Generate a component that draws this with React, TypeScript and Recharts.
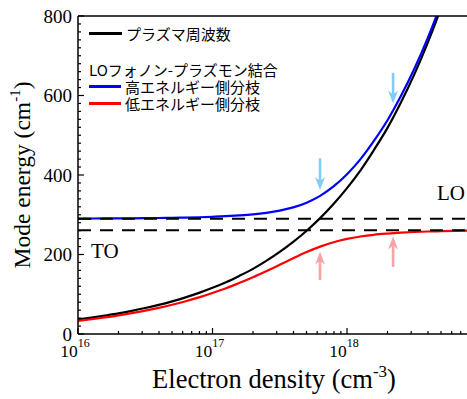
import { LineChart, Line, XAxis, YAxis, ReferenceLine, Legend, Label } from "recharts";

// electron density (cm^-3), 0.1 decade steps
const density = [
  1e16, 1.26e16, 1.58e16, 2e16, 2.51e16, 3.16e16, 3.98e16, 5.01e16, 6.31e16, 7.94e16,
  1e17, 1.26e17, 1.58e17, 2e17, 2.51e17, 3.16e17, 3.98e17, 5.01e17, 6.31e17, 7.94e17,
  1e18, 1.26e18, 1.58e18, 2e18, 2.51e18, 3.16e18, 3.98e18, 5.01e18, 6.31e18, 7.94e18,
];
// mode energies (cm^-1)
const plasmaFreq = [
  36.7, 41.2, 46.2, 51.8, 58.2, 65.3, 73.2, 82.2, 92.2, 103.4,
  116.1, 130.2, 146.1, 163.9, 183.9, 206.4, 231.6, 259.8, 291.5, 327.1,
  367.0, 411.8, 462.1, 518.5, 581.7, 652.6, 732.2, 821.6, 921.9, 1034.3,
];
const upperBranch = [
  290.4, 290.5, 290.7, 290.9, 291.1, 291.4, 291.8, 292.3, 292.9, 293.7,
  294.9, 296.3, 298.3, 301.0, 304.9, 310.4, 318.5, 330.4, 347.5, 371.2,
  401.9, 439.9, 485.1, 537.7, 597.9, 666.5, 744.2, 832.0, 931.0, 1038.0,
];
const lowerBranch = [
  33.1, 37.1, 41.6, 46.7, 52.4, 58.7, 65.7, 73.7, 82.5, 92.2,
  103.2, 115.1, 128.3, 142.7, 158.0, 174.2, 190.5, 206.0, 219.8, 230.9,
  239.2, 245.3, 249.6, 252.6, 254.9, 256.6, 257.8, 258.7, 259.4, 259.9,
];

const LO_ENERGY = 290;
const TO_ENERGY = 261;

const xTicks = [
  1e16, 2e16, 3e16, 4e16, 5e16, 6e16, 7e16, 8e16, 9e16,
  1e17, 2e17, 3e17, 4e17, 5e17, 6e17, 7e17, 8e17, 9e17,
  1e18, 2e18, 3e18, 4e18, 5e18, 6e18, 7e18,
];
const xMajor = [1e16, 1e17, 1e18];
const xExponents = ["16", "17", "18"];
const yTicks = [
  0, 20, 40, 60, 80, 100, 120, 140, 160, 180, 200, 220, 240, 260, 280, 300, 320, 340, 360, 380,
  400, 420, 440, 460, 480, 500, 520, 540, 560, 580, 600, 620, 640, 660, 680, 700, 720, 740, 760, 780, 800,
];
const yMajor = [0, 200, 400, 600, 800];

const legendTitle = "LOフォノン-プラズモン結合";
const plasmaName = "プラズマ周波数";
const branchNames = ["高エネルギー側分枝", "低エネルギー側分枝"];

const arrows = [
  { n: 6.3e17, from: 442, to: 362, color: "#82cbfb" },
  { n: 2.2e18, from: 657, to: 580, color: "#82cbfb" },
  { n: 6.3e17, from: 136, to: 207, color: "#f6a3a6" },
  { n: 2.2e18, from: 169, to: 245, color: "#f6a3a6" },
];

const data = density.map((n, i) => ({
  n,
  plasma: plasmaFreq[i],
  upper: upperBranch[i],
  lower: lowerBranch[i],
}));

const serif = "'Liberation Serif', 'Times New Roman', serif";
const jp = "'Noto Sans CJK JP', 'Noto Sans', sans-serif";
const X_DOMAIN: [number, number] = [1e16, 7.8e18];

// eslint-disable-next-line @typescript-eslint/no-explicit-any
function BottomTick({ x, y, payload }: any) {
  const idx = xMajor.indexOf(payload.value);
  const len = idx >= 0 ? 6 : 3;
  return (
    <g>
      <line x1={x} y1={y} x2={x} y2={y - len} stroke="#000" strokeWidth={1.2} />
      {idx >= 0 && (
        <text x={x - 3} y={y + 23} textAnchor="middle" fontFamily={serif} fontSize={17.5} fill="#000">
          10
          <tspan dy={-10} fontSize={12}>
            {xExponents[idx]}
          </tspan>
        </text>
      )}
    </g>
  );
}

// eslint-disable-next-line @typescript-eslint/no-explicit-any
function TopTick({ x, y, payload }: any) {
  const len = xMajor.includes(payload.value) ? 6 : 3;
  return <line x1={x} y1={y} x2={x} y2={y + len} stroke="#000" strokeWidth={1.2} />;
}

// eslint-disable-next-line @typescript-eslint/no-explicit-any
function LeftTick({ x, y, payload }: any) {
  const major = yMajor.includes(payload.value);
  return (
    <g>
      <line x1={x} y1={y} x2={x + (major ? 6 : 3)} y2={y} stroke="#000" strokeWidth={1.2} />
      {major && (
        <text x={x - 6} y={y} dy="0.35em" textAnchor="end" fontFamily={serif} fontSize={19} fill="#000">
          {payload.value}
        </text>
      )}
    </g>
  );
}

// eslint-disable-next-line @typescript-eslint/no-explicit-any
function Arrow({ x1, y1, x2, y2, color }: any) {
  const dir = y2 > y1 ? 1 : -1;
  const head = 13;
  return (
    <g>
      <line x1={x1} y1={y1} x2={x2} y2={y2 - dir * 9} stroke={color} strokeWidth={2.6} />
      <polygon
        points={`${x2},${y2} ${x2 - 5},${y2 - dir * head} ${x2},${y2 - dir * 9} ${x2 + 5},${y2 - dir * head}`}
        fill={color}
      />
    </g>
  );
}

function LegendBox() {
  const swatch = (color: string, w: number) => (
    <span style={{ display: "inline-block", width: w, height: 2.5, background: color, marginRight: 4 }} />
  );
  return (
    <div style={{ fontFamily: jp, fontSize: 15, lineHeight: "17px", color: "#000", whiteSpace: "nowrap" }}>
      <div style={{ display: "flex", alignItems: "center" }}>
        {swatch("#000", 33)}
        {plasmaName}
      </div>
      <div style={{ marginTop: 19 }}>{legendTitle}</div>
      {branchNames.map((name, i) => (
        <div key={name} style={{ display: "flex", alignItems: "center" }}>
          {swatch(i === 0 ? "#0000ff" : "#ff0000", 32)}
          {name}
        </div>
      ))}
    </div>
  );
}

export default function App() {
  return (
    <div style={{ position: "absolute", left: 0, top: 0, width: 467, height: 399, background: "#fff" }}>
      <LineChart width={467} height={399} data={data} margin={{ top: 0, right: 0, bottom: 0, left: 0 }}>
        <XAxis
          dataKey="n"
          type="number"
          scale="log"
          domain={X_DOMAIN}
          allowDataOverflow
          ticks={xTicks}
          interval={0}
          tick={<BottomTick />}
          tickLine={false}
          tickSize={0}
          tickMargin={0}
          height={65}
          axisLine={{ stroke: "#000", strokeWidth: 1.5 }}
        >
          <Label
            content={() => (
              <text x={274} y={388} textAnchor="middle" fontFamily={serif} fontSize={26.5} fill="#000">
                Electron density (cm
                <tspan dy={-11} fontSize={17}>-3</tspan>
                <tspan dy={11}>)</tspan>
              </text>
            )}
          />
        </XAxis>
        <XAxis
          xAxisId="top"
          orientation="top"
          type="number"
          scale="log"
          domain={X_DOMAIN}
          allowDataOverflow
          ticks={xTicks}
          interval={0}
          tick={<TopTick />}
          tickLine={false}
          tickSize={0}
          tickMargin={0}
          height={16}
          axisLine={{ stroke: "#000", strokeWidth: 1.5 }}
        />
        <YAxis
          type="number"
          domain={[0, 800]}
          allowDataOverflow
          ticks={yTicks}
          interval={0}
          tick={<LeftTick />}
          tickLine={false}
          tickSize={0}
          tickMargin={0}
          width={78}
          axisLine={{ stroke: "#000", strokeWidth: 1.5 }}
        >
          <Label
            content={() => (
              <text
                x={30}
                y={175}
                transform="rotate(-90, 30, 175)"
                textAnchor="middle"
                fontFamily={serif}
                fontSize={23.5}
                fill="#000"
              >
                Mode energy (cm
                <tspan dy={-10} fontSize={15}>-1</tspan>
                <tspan dy={10}>)</tspan>
              </text>
            )}
          />
        </YAxis>
        <Legend
          layout="vertical"
          align="center"
          verticalAlign="middle"
          wrapperStyle={{ left: 89, top: 25, width: 260 }}
          content={<LegendBox />}
        />
        <Line dataKey="plasma" type="monotone" stroke="#000" strokeWidth={2.2} dot={false} isAnimationActive={false} />
        <Line dataKey="upper" type="monotone" stroke="#0000ff" strokeWidth={2.2} dot={false} isAnimationActive={false} />
        <Line dataKey="lower" type="monotone" stroke="#ff0000" strokeWidth={2.2} dot={false} isAnimationActive={false} />
        <ReferenceLine y={LO_ENERGY} stroke="#000" strokeWidth={2} strokeDasharray="13 9">
          <Label
            // eslint-disable-next-line @typescript-eslint/no-explicit-any
            content={(p: any) => (
              <text x={p.viewBox.x + p.viewBox.width - 2} y={p.viewBox.y - 19} textAnchor="end" fontFamily={serif} fontSize={21} fill="#000">
                LO
              </text>
            )}
          />
        </ReferenceLine>
        <ReferenceLine y={TO_ENERGY} stroke="#000" strokeWidth={2} strokeDasharray="13 9">
          <Label
            // eslint-disable-next-line @typescript-eslint/no-explicit-any
            content={(p: any) => (
              <text x={p.viewBox.x + 13} y={p.viewBox.y + 28} fontFamily={serif} fontSize={21} fill="#000">
                TO
              </text>
            )}
          />
        </ReferenceLine>
        {arrows.map((a, i) => (
          <ReferenceLine
            key={i}
            segment={[
              { x: a.n, y: a.from },
              { x: a.n, y: a.to },
            ]}
            // eslint-disable-next-line @typescript-eslint/no-explicit-any
            shape={(p: any) => <Arrow {...p} color={a.color} />}
          />
        ))}
      </LineChart>
    </div>
  );
}
